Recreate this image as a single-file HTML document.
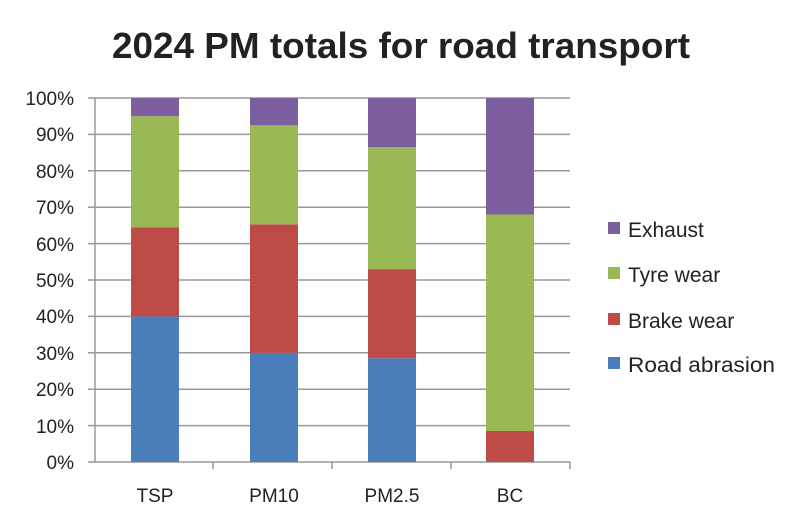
<!DOCTYPE html>
<html><head><meta charset="utf-8"><style>
body{margin:0;background:#fff}
svg text{font-family:"Liberation Sans",sans-serif;fill:#222}
</style></head><body>
<svg width="800" height="526" xmlns="http://www.w3.org/2000/svg">
<rect width="800" height="526" fill="#fff"/>
<text x="401" y="58" text-anchor="middle" font-size="36" font-weight="bold" fill="#111" textLength="578" lengthAdjust="spacingAndGlyphs">2024 PM totals for road transport</text>
<g stroke="#999" stroke-width="1.5">
<line x1="88" y1="98" x2="570" y2="98"/><line x1="88" y1="134.4" x2="570" y2="134.4"/>
<line x1="88" y1="170.8" x2="570" y2="170.8"/><line x1="88" y1="207.2" x2="570" y2="207.2"/>
<line x1="88" y1="243.6" x2="570" y2="243.6"/><line x1="88" y1="280" x2="570" y2="280"/>
<line x1="88" y1="316.4" x2="570" y2="316.4"/><line x1="88" y1="352.8" x2="570" y2="352.8"/>
<line x1="88" y1="389.2" x2="570" y2="389.2"/><line x1="88" y1="425.6" x2="570" y2="425.6"/>
<line x1="95" y1="98" x2="95" y2="462"/>
<line x1="88" y1="462" x2="570" y2="462"/>
<line x1="213" y1="462" x2="213" y2="469"/><line x1="332" y1="462" x2="332" y2="469"/>
<line x1="451" y1="462" x2="451" y2="469"/><line x1="570" y1="462" x2="570" y2="469"/>
</g>
<g>
<rect x="131" y="316.4" width="48" height="145.6" fill="#4a7ebb"/>
<rect x="131" y="227.2" width="48" height="89.2" fill="#be4b48"/>
<rect x="131" y="116.2" width="48" height="111" fill="#98b954"/>
<rect x="131" y="98" width="48" height="18.2" fill="#7d5fa0"/>
<rect x="250" y="352.8" width="48" height="109.2" fill="#4a7ebb"/>
<rect x="250" y="224.3" width="48" height="128.5" fill="#be4b48"/>
<rect x="250" y="125.3" width="48" height="99" fill="#98b954"/>
<rect x="250" y="98" width="48" height="27.3" fill="#7d5fa0"/>
<rect x="368" y="358.3" width="48" height="103.7" fill="#4a7ebb"/>
<rect x="368" y="269.1" width="48" height="89.2" fill="#be4b48"/>
<rect x="368" y="147.1" width="48" height="122" fill="#98b954"/>
<rect x="368" y="98" width="48" height="49.1" fill="#7d5fa0"/>
<rect x="486" y="431" width="48" height="31" fill="#be4b48"/>
<rect x="486" y="214.5" width="48" height="216.5" fill="#98b954"/>
<rect x="486" y="98" width="48" height="116.5" fill="#7d5fa0"/>
</g>
<g font-size="19" text-anchor="end">
<text x="74" y="105">100%</text><text x="74" y="141">90%</text><text x="74" y="178">80%</text>
<text x="74" y="214">70%</text><text x="74" y="251">60%</text><text x="74" y="287">50%</text>
<text x="74" y="323">40%</text><text x="74" y="360">30%</text><text x="74" y="396">20%</text>
<text x="74" y="433">10%</text><text x="74" y="469">0%</text>
</g>
<g font-size="19" text-anchor="middle">
<text x="155" y="502">TSP</text><text x="274" y="502">PM10</text>
<text x="392" y="502">PM2.5</text><text x="510" y="502">BC</text>
</g>
<g font-size="21">
<rect x="608" y="222" width="12" height="12" fill="#7d5fa0"/><text x="628" y="237">Exhaust</text>
<rect x="608" y="267" width="12" height="12" fill="#98b954"/><text x="628" y="282">Tyre wear</text>
<rect x="608" y="313" width="12" height="12" fill="#be4b48"/><text x="628" y="328">Brake wear</text>
<rect x="608" y="357" width="12" height="12" fill="#4a7ebb"/><text x="628" y="372" textLength="147" lengthAdjust="spacingAndGlyphs">Road abrasion</text>
</g>
</svg>
</body></html>
